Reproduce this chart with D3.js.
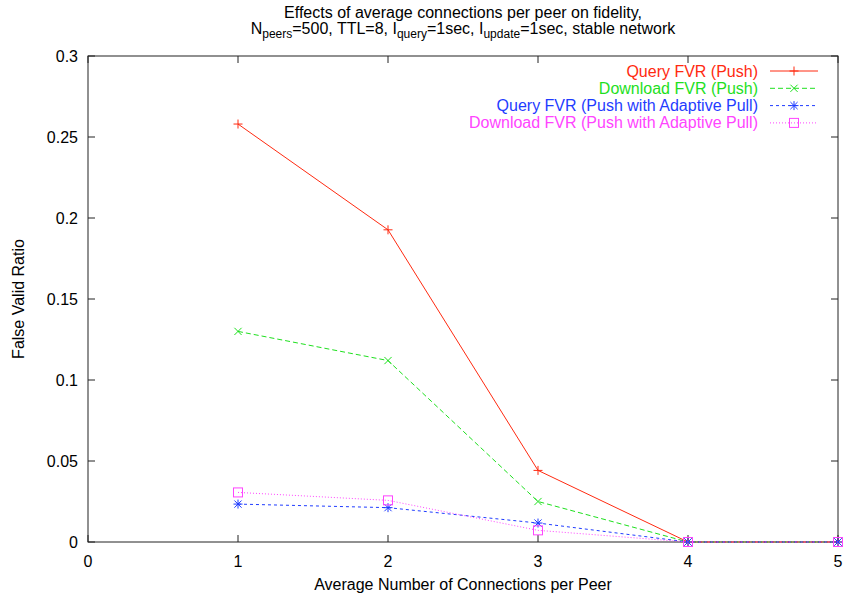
<!DOCTYPE html>
<html>
<head>
<meta charset="utf-8">
<script src="https://cdn.jsdelivr.net/npm/d3@7"></script>
<style>
  body { margin: 0; background: #fff; }
  text { font-family: "Liberation Sans", Arial, Helvetica, sans-serif; fill: #000; }
</style>
</head>
<body>
<svg id="chart" width="844" height="597"></svg>
<script>
// data
var connections = [1, 2, 3, 4, 5];
var queryPush = [0.258, 0.1927, 0.0442, 0, 0];
var downloadPush = [0.130, 0.112, 0.0250, 0, 0];
var queryAdaptive = [0.0234, 0.0212, 0.0117, 0, 0];
var downloadAdaptive = [0.0306, 0.0257, 0.0072, 0, 0];
var xTicks = [0, 1, 2, 3, 4, 5];
var yTicks = [0, 0.05, 0.1, 0.15, 0.2, 0.25, 0.3];

var series = [
	{name: "Query FVR (Push)", values: queryPush, color: "#ff2a10", dash: null, mark: "plus"},
	{name: "Download FVR (Push)", values: downloadPush, color: "#1ee01e", dash: "5,3", mark: "cross"},
	{name: "Query FVR (Push with Adaptive Pull)", values: queryAdaptive, color: "#1f3cff", dash: "3,3", mark: "star"},
	{name: "Download FVR (Push with Adaptive Pull)", values: downloadAdaptive, color: "#ff44ff", dash: "1,2", mark: "box"}
];

var margin = {left: 88, right: 6, top: 56, bottom: 55};
var width = 844, height = 597;
var fs = 16;
var svg = d3.select("#chart");

var x = d3.scaleLinear().domain([0, 5]).range([margin.left, width - margin.right]);
var y = d3.scaleLinear().domain([0, 0.3]).range([height - margin.bottom, margin.top]);

var tickLen = 7;
var fmt = function(d) { return d3.format("~g")(d); };

// border
svg.append("rect")
	.attr("x", x(0)).attr("y", y(0.3))
	.attr("width", x(5) - x(0)).attr("height", y(0) - y(0.3))
	.attr("fill", "none").attr("stroke", "#222").attr("stroke-width", 1);

// ticks (inward, mirrored like gnuplot)
var tg = svg.append("g").attr("stroke", "#222").attr("stroke-width", 1);
xTicks.forEach(function(t) {
	tg.append("line").attr("x1", x(t)).attr("x2", x(t)).attr("y1", y(0)).attr("y2", y(0) - tickLen);
	tg.append("line").attr("x1", x(t)).attr("x2", x(t)).attr("y1", y(0.3)).attr("y2", y(0.3) + tickLen);
});
yTicks.forEach(function(t) {
	tg.append("line").attr("x1", x(0)).attr("x2", x(0) + tickLen).attr("y1", y(t)).attr("y2", y(t));
	tg.append("line").attr("x1", x(5)).attr("x2", x(5) - tickLen).attr("y1", y(t)).attr("y2", y(t));
});

svg.append("g").selectAll("text").data(xTicks).join("text")
	.attr("x", function(d) { return x(d); })
	.attr("y", y(0) + 25)
	.attr("text-anchor", "middle")
	.attr("font-size", fs)
	.text(fmt);

svg.append("g").selectAll("text").data(yTicks).join("text")
	.attr("x", x(0) - 10)
	.attr("y", function(d) { return y(d) + 6; })
	.attr("text-anchor", "end")
	.attr("font-size", fs)
	.text(fmt);

// axis titles
svg.append("text")
	.attr("x", (x(0) + x(5)) / 2).attr("y", 590)
	.attr("text-anchor", "middle").attr("font-size", fs)
	.text("Average Number of Connections per Peer");

svg.append("text")
	.attr("transform", "translate(24," + ((y(0) + y(0.3)) / 2) + ") rotate(-90)")
	.attr("text-anchor", "middle").attr("font-size", fs)
	.text("False Valid Ratio");

// title
var cx = (x(0) + x(5)) / 2;
svg.append("text")
	.attr("x", cx).attr("y", 18)
	.attr("text-anchor", "middle").attr("font-size", fs)
	.text("Effects of average connections per peer on fidelity,");

var t2 = svg.append("text")
	.attr("x", cx).attr("y", 34)
	.attr("text-anchor", "middle").attr("font-size", fs);
var parts = [["N", 0], ["peers", 1], ["=500, TTL=8, I", 0], ["query", 1], ["=1sec, I", 0], ["update", 1], ["=1sec, stable network", 0]];
parts.forEach(function(p, i) {
	var ts = t2.append("tspan").text(p[0]);
	if (p[1]) ts.attr("font-size", 12).attr("dy", 4);
	else if (i > 0 && parts[i - 1][1]) ts.attr("dy", -4);
});

// markers
function drawMark(g, type, cxp, cyp, color) {
	var s = 4.5;
	var m = g.append("g").attr("stroke", color).attr("stroke-width", 1).attr("fill", "none");
	if (type === "plus" || type === "star") {
		m.append("line").attr("x1", cxp - s).attr("x2", cxp + s).attr("y1", cyp).attr("y2", cyp);
		m.append("line").attr("x1", cxp).attr("x2", cxp).attr("y1", cyp - s).attr("y2", cyp + s);
	}
	if (type === "cross" || type === "star") {
		var c = s * 0.8;
		m.append("line").attr("x1", cxp - c).attr("x2", cxp + c).attr("y1", cyp - c).attr("y2", cyp + c);
		m.append("line").attr("x1", cxp - c).attr("x2", cxp + c).attr("y1", cyp + c).attr("y2", cyp - c);
	}
	if (type === "box") {
		m.append("rect").attr("x", cxp - s).attr("y", cyp - s).attr("width", 2 * s).attr("height", 2 * s);
	}
}

var line = d3.line()
	.x(function(d, i) { return x(connections[i]); })
	.y(function(d) { return y(d); });

var plot = svg.append("g");
series.forEach(function(s) {
	plot.append("path")
		.attr("d", line(s.values))
		.attr("fill", "none")
		.attr("stroke", s.color)
		.attr("stroke-width", 1)
		.attr("stroke-dasharray", s.dash);
	s.values.forEach(function(v, i) {
		drawMark(plot, s.mark, x(connections[i]), y(v), s.color);
	});
});

// legend
var legX = 758, legY = 71, legStep = 17.3;
var leg = svg.append("g");
series.forEach(function(s, i) {
	var ly = legY + i * legStep;
	leg.append("text")
		.attr("x", legX).attr("y", ly + 5.5)
		.attr("text-anchor", "end").attr("font-size", fs)
		.style("fill", s.color)
		.text(s.name);
	leg.append("line")
		.attr("x1", 770).attr("x2", 818).attr("y1", ly).attr("y2", ly)
		.attr("stroke", s.color).attr("stroke-width", 1)
		.attr("stroke-dasharray", s.dash);
	drawMark(leg, s.mark, 794, ly, s.color);
});
</script>
</body>
</html>
